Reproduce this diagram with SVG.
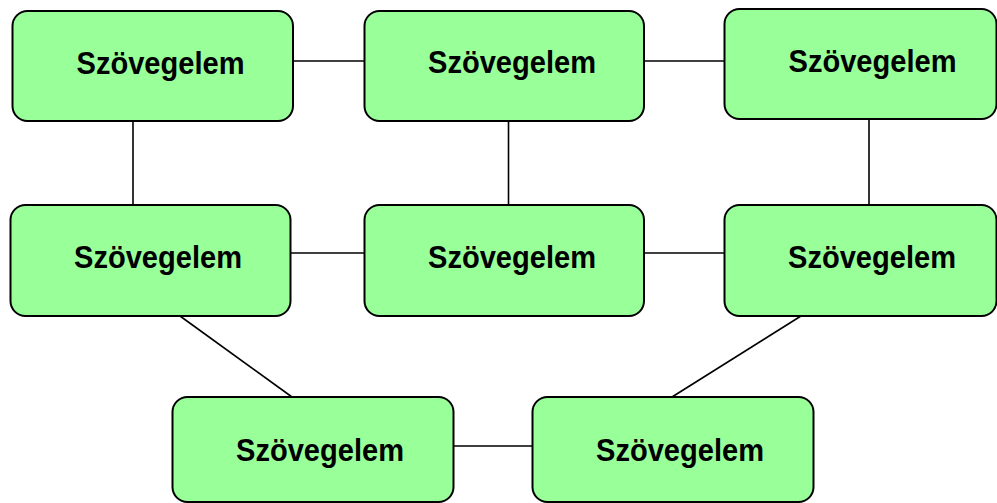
<svg xmlns="http://www.w3.org/2000/svg" width="997" height="503" viewBox="0 0 997 503">
  <style>
    .box { fill: #99FF99; stroke: #000000; stroke-width: 2; }
    .lbl { font-family: "Liberation Sans", Arial, sans-serif; font-weight: bold; font-size: 30.5px; fill: #000000; text-anchor: middle; }
    .conn line { stroke: #000000; stroke-width: 1.6; }
  </style>
  <rect width="997" height="503" fill="#FFFFFF"/>
  <g id="connectors" class="conn">
    <line x1="293" y1="61" x2="364" y2="61"/>
    <line x1="644" y1="61" x2="724" y2="61"/>
    <line x1="291" y1="253" x2="364" y2="253"/>
    <line x1="644" y1="253" x2="724" y2="253"/>
    <line x1="453" y1="446" x2="532" y2="446"/>
    <line x1="133" y1="121" x2="133" y2="205"/>
    <line x1="508.5" y1="121" x2="508.5" y2="205"/>
    <line x1="869" y1="119" x2="869" y2="205"/>
    <line x1="180" y1="316" x2="292" y2="397"/>
    <line x1="801" y1="316" x2="672" y2="397"/>
  </g>
  <g id="node1">
    <rect class="box" x="12.5" y="11" width="280.5" height="110" rx="15"/>
    <text class="lbl" x="160.5" y="73.5" textLength="168" lengthAdjust="spacingAndGlyphs">Szövegelem</text>
  </g>
  <g id="node2">
    <rect class="box" x="364.5" y="11" width="279.5" height="110" rx="15"/>
    <text class="lbl" x="512" y="73" textLength="168" lengthAdjust="spacingAndGlyphs">Szövegelem</text>
  </g>
  <g id="node3">
    <rect class="box" x="724.5" y="9" width="272" height="110" rx="15"/>
    <text class="lbl" x="872.5" y="71.5" textLength="168" lengthAdjust="spacingAndGlyphs">Szövegelem</text>
  </g>
  <g id="node4">
    <rect class="box" x="10.5" y="205" width="280" height="111" rx="15"/>
    <text class="lbl" x="158" y="267.5" textLength="168" lengthAdjust="spacingAndGlyphs">Szövegelem</text>
  </g>
  <g id="node5">
    <rect class="box" x="364.5" y="205" width="279.5" height="111" rx="15"/>
    <text class="lbl" x="512" y="268" textLength="168" lengthAdjust="spacingAndGlyphs">Szövegelem</text>
  </g>
  <g id="node6">
    <rect class="box" x="724.5" y="205" width="272" height="111" rx="15"/>
    <text class="lbl" x="872" y="267.5" textLength="168" lengthAdjust="spacingAndGlyphs">Szövegelem</text>
  </g>
  <g id="node7">
    <rect class="box" x="172.5" y="397" width="281" height="105" rx="15"/>
    <text class="lbl" x="320" y="460.5" textLength="168" lengthAdjust="spacingAndGlyphs">Szövegelem</text>
  </g>
  <g id="node8">
    <rect class="box" x="532.5" y="397" width="281" height="105" rx="15"/>
    <text class="lbl" x="680" y="460.5" textLength="168" lengthAdjust="spacingAndGlyphs">Szövegelem</text>
  </g>
</svg>
